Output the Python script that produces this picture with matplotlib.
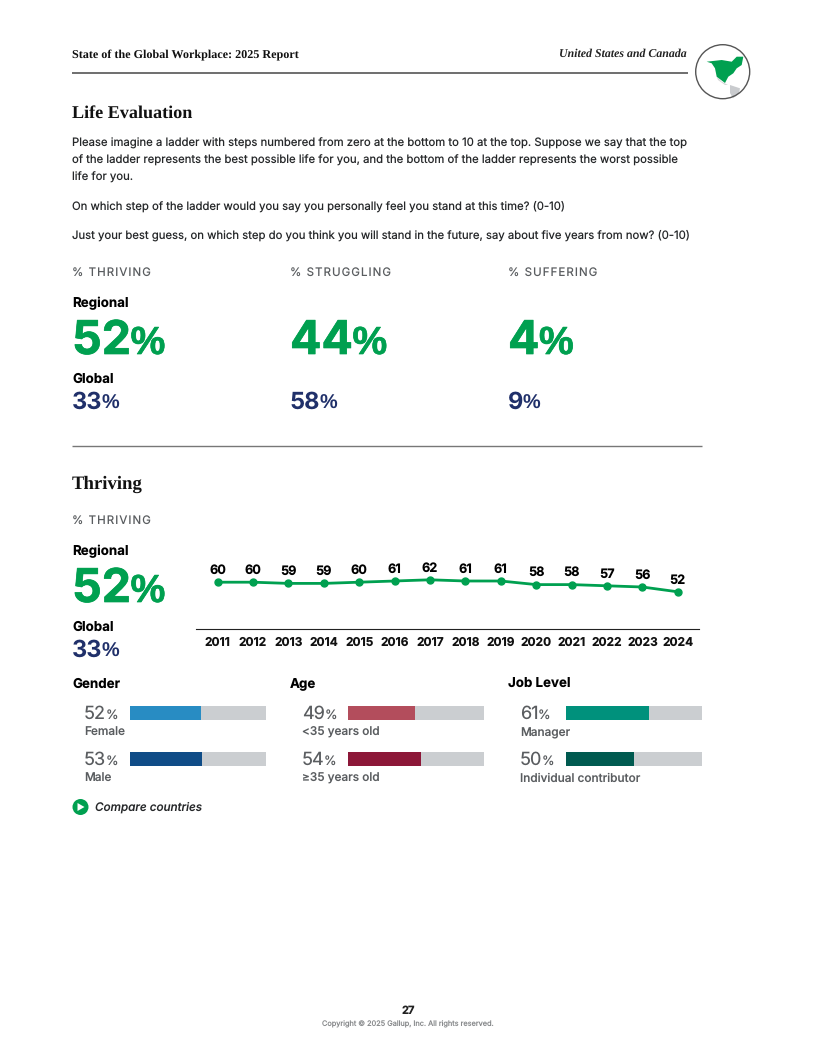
import matplotlib
matplotlib.use("Agg")
from matplotlib import pyplot as plt
from matplotlib import patheffects as pe
from matplotlib.patches import Circle, Polygon

plt.rcParams["font.family"] = ["Inter", "DejaVu Sans"]
plt.rcParams["text.hinting"] = "no_hinting"

GREEN = "#00a050"
NAVY = "#20306a"
GREY_TEXT = "#5a5d60"
BAR_BG = "#cbced1"

years = list(range(2011, 2025))
thriving = [60, 60, 59, 59, 60, 61, 62, 61, 61, 58, 58, 57, 56, 52]

summary_heads = ["% THRIVING", "% STRUGGLING", "% SUFFERING"]
summary_regional = [52, 44, 4]
summary_global = [33, 58, 9]

group_titles = ["Gender", "Age", "Job Level"]
group_labels = [["Female", "Male"], ["<35 years old", "≥35 years old"], ["Manager", "Individual contributor"]]
group_values = [[52, 53], [49, 54], [61, 50]]
group_colors = [["#288cc3", "#0f4c87"], ["#b34d5c", "#8c1738"], ["#00917c", "#005a50"]]

body_lines = [
    (147, "Please imagine a ladder with steps numbered from zero at the bottom to 10 at the top. Suppose we say that the top"),
    (164, "of the ladder represents the best possible life for you, and the bottom of the ladder represents the worst possible"),
    (181, "life for you."),
    (210, "On which step of the ladder would you say you personally feel you stand at this time? (0-10)"),
    (239, "Just your best guess, on which step do you think you will stand in the future, say about five years from now? (0-10)"),
]

fig = plt.figure(figsize=(8.16, 10.56), dpi=100)
page = fig.add_axes([0, 0, 1, 1])
page.set_xlim(0, 816)
page.set_ylim(1056, 0)
page.axis("off")


def add_axes_px(x0, y0, x1, y1):
    return fig.add_axes([x0 / 816, 1 - y1 / 1056, (x1 - x0) / 816, (y1 - y0) / 1056])


def spaced(text):
    return "\u200a".join(text)


def pct_text(x, y, value, size, color, stroke=0.0):
    # number and smaller % sign share one baseline
    heavy = [pe.withStroke(linewidth=stroke, foreground=color)] if stroke else None
    t = page.text(x, y, str(value), fontsize=size, color=color, fontweight="bold", va="baseline", path_effects=heavy)
    ext = t.get_window_extent(fig.canvas.get_renderer())
    page.text(ext.x1 - 0.5, y, "%", family="Liberation Sans", fontsize=size * 0.84, color=color,
              fontweight="bold", va="baseline", path_effects=heavy)


def big_block(x, y_big, y_small, regional, glob):
    pct_text(x, y_big, regional, 33.5, GREEN, stroke=0.5)
    pct_text(x, y_small, glob, 17, NAVY)


def block_labels(x, y_reg, y_glob):
    page.text(x, y_reg, "Regional", fontsize=9.6, fontweight="bold", color="black", va="baseline")
    page.text(x, y_glob, "Global", fontsize=9.6, fontweight="bold", color="black", va="baseline")


# header
page.text(72, 58.5, "State of the Global Workplace: 2025 Report", family="Liberation Serif", fontsize=8.7,
          fontweight="bold", color="#111111", va="baseline")
page.text(687, 57, "United States and Canada", family="Liberation Serif", fontsize=8.6, fontweight="bold",
          style="italic", color="#222222", ha="right", va="baseline")
page.plot([72, 688], [73, 73], color="#555555", lw=1.2, solid_capstyle="butt")

# little globe
south = Polygon([(730, 85), (740, 88.3), (739, 93.3), (733, 98.3), (730, 93)], color="#c9cbce", lw=0)
central = Polygon([(716.7, 76.7), (721.7, 81.7), (728, 85), (725, 85), (718, 80)], color="#d4d6d8", lw=0)
north = Polygon([(706.7, 61.7), (721.7, 60), (731.7, 61.7), (736.7, 56.7), (743.3, 56.7), (741.7, 65), (736.7, 68.3),
                 (733.3, 73.3), (728.3, 76.7), (725, 83), (716.7, 76.7), (715, 68.3), (711.7, 63.3)], color=GREEN, lw=0)
for shape in [south, central, north]:
    page.add_patch(shape)
page.add_patch(Circle((722.7, 71.7), 27, fill=False, ec="#555555", lw=1))

# life evaluation
page.text(72, 118, "Life Evaluation", family="Liberation Serif", fontsize=13.1, fontweight="bold", color="#111111", va="baseline")
for y, line in body_lines:
    page.text(72, y, line, fontsize=8.17, color="#26282a", va="baseline")

col_x = [72, 290, 508]
for x, head, reg, glob in zip(col_x, summary_heads, summary_regional, summary_global):
    page.text(x, 276, spaced(head), fontsize=8.3, color=GREY_TEXT, va="baseline")
    big_block(x, 354, 409, reg, glob)
block_labels(72, 307, 383)

page.plot([72, 702], [445.5, 445.5], color="#777777", lw=1, solid_capstyle="butt")

# thriving
page.text(72, 489, "Thriving", family="Liberation Serif", fontsize=13.5, fontweight="bold", color="#111111", va="baseline")
page.text(72, 524, spaced("% THRIVING"), fontsize=8.3, color=GREY_TEXT, va="baseline")
block_labels(72, 555, 631)
big_block(72, 602, 657, thriving[-1], 33)

line_ax = add_axes_px(196, 560, 699, 629)
line_ax.plot(years, thriving, color=GREEN, lw=2, marker="o", ms=5, clip_on=False)
line_ax.set_xlim(2010.39, 2024.6)
line_ax.set_ylim(21, 78.5)
for yr, val in zip(years, thriving):
    line_ax.annotate(str(val), (yr, val), xytext=(0, 6), textcoords="offset points", ha="center",
                     fontsize=9.2, fontweight="bold", color="black")
line_ax.set_xticks(years)
line_ax.set_xticklabels([str(y) for y in years], fontsize=8.6, fontweight="bold", color="#111111")
line_ax.tick_params(axis="x", length=0, pad=5.5)
line_ax.set_yticks([])
for side in ["top", "left", "right"]:
    line_ax.spines[side].set_visible(False)
line_ax.spines["bottom"].set_color("#222222")
line_ax.spines["bottom"].set_linewidth(0.8)
line_ax.patch.set_alpha(0)

# breakdown bars
bar_y = [706, 752]
for x, title, labels, values, colors in zip(col_x, group_titles, group_labels, group_values, group_colors):
    page.text(x, 688, title, fontsize=9.6, fontweight="bold", color="black", va="baseline")
    for y, label, val, color in zip(bar_y, labels, values, colors):
        t = page.text(x + 12, y + 13, str(val), fontsize=13, color=GREY_TEXT, va="baseline")
        ext = t.get_window_extent(fig.canvas.get_renderer())
        page.text(ext.x1 - 0.5, y + 13, "%", fontsize=9.2, color=GREY_TEXT, va="baseline")
        page.text(x + 12, y + 30, label, fontsize=8.5, fontweight="medium", color=GREY_TEXT, va="baseline")
        ax = add_axes_px(x + 58, y, x + 194, y + 14)
        ax.barh([0], [100], height=1, color=BAR_BG)
        ax.barh([0], [val], height=1, color=color)
        ax.set_xlim(0, 100)
        ax.set_ylim(-0.5, 0.5)
        ax.axis("off")

# compare link
page.add_patch(Circle((80.5, 807), 8, color=GREEN, lw=0))
page.add_patch(Polygon([(77.5, 803), (77.5, 811), (84.5, 807)], color="white", lw=0))
page.text(95, 811, "Compare countries", fontsize=8.4, fontweight="medium", style="italic", color="#26282a", va="baseline")

# footer
page.text(408, 1014, "27", fontsize=8, fontweight="bold", color="#222222", ha="center", va="baseline")
page.text(408, 1026, "Copyright © 2025 Gallup, Inc. All rights reserved.", fontsize=5.3, color="#8a8c8e", ha="center", va="baseline")

fig.savefig("out.png", dpi=100)
